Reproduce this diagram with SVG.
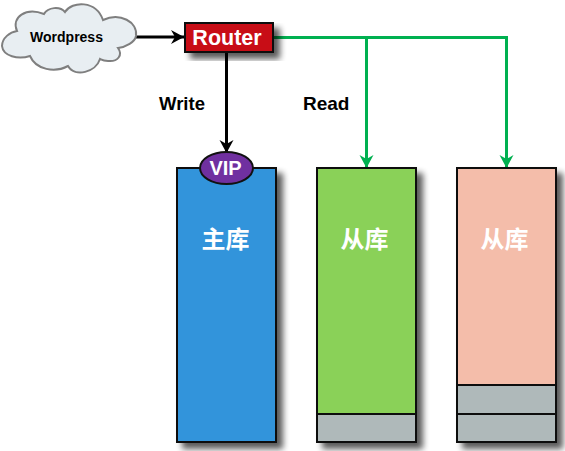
<svg xmlns="http://www.w3.org/2000/svg" width="565" height="451" viewBox="0 0 565 451">
<style>
.box{stroke:#111;stroke-width:2}
.en{font-family:"Liberation Sans",Arial,sans-serif;font-weight:bold}
.cjk{font-family:"Liberation Sans","Noto Sans CJK SC",sans-serif;font-weight:bold;font-size:24px;fill:#fff;text-anchor:middle}
.blk{fill:none;stroke:#000;stroke-width:3}
.grn{fill:none;stroke:#00b050;stroke-width:3}
</style>
<defs>
<filter id="sh" x="-20%" y="-20%" width="150%" height="150%">
<feGaussianBlur in="SourceAlpha" stdDeviation="3"/>
<feOffset dx="6" dy="6"/>
<feComponentTransfer><feFuncA type="linear" slope="0.65"/></feComponentTransfer>
<feMerge><feMergeNode/><feMergeNode in="SourceGraphic"/></feMerge>
</filter>
<marker id="ab" markerUnits="userSpaceOnUse" markerWidth="14" markerHeight="16" refX="13" refY="8" orient="auto"><path d="M0,1 L13,8 L0,15 L4,8 Z" fill="#000"/></marker>
<marker id="ag" markerUnits="userSpaceOnUse" markerWidth="14" markerHeight="16" refX="13" refY="8" orient="auto"><path d="M0,1 L13,8 L0,15 L4,8 Z" fill="#00b050"/></marker>
</defs>
<g id="connectors">
<path class="blk" d="M136,37 H184" marker-end="url(#ab)"/>
<path class="blk" d="M226.500,52 V153" marker-end="url(#ab)"/>
<path class="grn" d="M273,37.500 H506.500 V168" marker-end="url(#ag)"/>
<path class="grn" d="M366.500,37.500 V168" marker-end="url(#ag)"/>
</g>
<g id="wordpress">
<path d="M17,31 C11,17 26,7 44,14 C48,7 60,6 65,12 C72,1 96,0 103,20 C120,12 138,22 136,36 C135,42 126,47 118,48 C123,55 118,62 108,61 C103,61 102,60 100,59 C96,72 75,78 68,66 C55,73 36,70 30,56 C18,60 3,56 2,46 C2,38 10,32 17,31 Z" fill="#e8eef2" stroke="#7f7f7f" stroke-width="2"/>
<text class="en" x="66.500" y="42" font-size="14" text-anchor="middle" fill="#000">Wordpress</text>
</g>
<g id="router">
<rect class="box" x="185" y="23" width="88" height="29" fill="#c80f12" filter="url(#sh)"/>
<text class="en" x="227" y="45" font-size="21.500" text-anchor="middle" fill="#fff">Router</text>
</g>
<text id="write" class="en" x="159" y="110" font-size="18.500" fill="#000">Write</text>
<text id="read" class="en" x="303" y="110" font-size="19" fill="#000">Read</text>
<g id="master">
<rect class="box" x="177" y="168" width="99" height="274" fill="#3394db" filter="url(#sh)"/>
<text class="cjk" x="225.500" y="248">主库</text>
</g>
<g id="vip">
<ellipse cx="226.500" cy="168" rx="26.500" ry="16" fill="#7030a0" stroke="#111" stroke-width="2"/>
<text class="en" x="225.500" y="175" font-size="20" text-anchor="middle" fill="#fff">VIP</text>
</g>
<g id="slave1">
<g filter="url(#sh)">
<rect class="box" x="317" y="168" width="99" height="246" fill="#8ad158"/>
<rect class="box" x="317" y="414" width="99" height="28" fill="#afb9ba"/>
</g>
<text class="cjk" x="364.500" y="248">从库</text>
</g>
<g id="slave2">
<g filter="url(#sh)">
<rect class="box" x="457" y="168" width="99" height="217" fill="#f4bdaa"/>
<rect class="box" x="457" y="385" width="99" height="29" fill="#afb9ba"/>
<rect class="box" x="457" y="414" width="99" height="28" fill="#afb9ba"/>
</g>
<text class="cjk" x="504.500" y="248">从库</text>
</g>
</svg>
